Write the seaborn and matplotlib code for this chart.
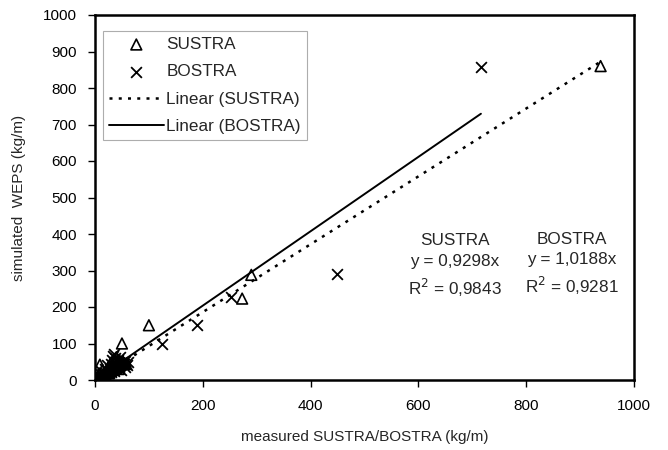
import numpy as np
import pandas as pd
import matplotlib
matplotlib.use("Agg")
import matplotlib.pyplot as plt
import seaborn as sns

# SUSTRA points (measured, simulated)
sustra_x = [938, 290, 273, 100, 50, 9, 5, 12, 18, 22, 25, 28, 30, 33, 35, 38, 40, 42, 45, 48,
            52, 55, 15, 20, 26, 32, 3, 8, 36, 44, 2, 14, 24, 30, 46, 58, 40]
sustra_y = [860, 288, 223, 150, 100, 42, 5, 10, 15, 22, 18, 30, 25, 35, 28, 40, 33, 45, 38, 42,
            50, 46, 8, 12, 20, 40, 2, 18, 55, 30, 6, 28, 34, 48, 52, 44, 62]
# BOSTRA points
bostra_x = [716, 449, 252, 189, 124, 10, 15, 20, 24, 28, 30, 34, 37, 40, 43, 46, 50, 53, 56, 60,
            18, 26, 32, 38, 44, 48, 6, 22, 35, 42, 4, 12, 29, 33, 47, 55, 62, 36]
bostra_y = [858, 290, 228, 150, 100, 8, 12, 20, 25, 30, 22, 35, 45, 38, 50, 42, 48, 44, 52, 40,
            30, 18, 55, 60, 35, 28, 4, 40, 25, 55, 2, 26, 45, 65, 62, 35, 50, 70]

slope_sustra = 0.9298
slope_bostra = 1.0188
r2_sustra = "0,9843"
r2_bostra = "0,9281"

sns.set_theme(style="white")
plt.rcParams['font.family'] = ['Liberation Sans', 'DejaVu Sans']

fig = plt.figure(figsize=(6.68, 4.5), dpi=100)
ax = fig.add_axes([95 / 668, 70 / 450, 539 / 668, 365 / 450])

df_s = pd.DataFrame({"x": sustra_x, "y": sustra_y})
df_b = pd.DataFrame({"x": bostra_x, "y": bostra_y})

sns.scatterplot(data=df_s, x="x", y="y", ax=ax, marker="^", s=60,
                facecolors="none", edgecolor="black", linewidth=1.2, label="SUSTRA")
sns.scatterplot(data=df_b, x="x", y="y", ax=ax, marker="x", s=60,
                color="black", linewidth=1.3, label="BOSTRA")

xs = np.array([0, max(sustra_x)])
ax.plot(xs, slope_sustra * xs, linestyle=(0, (1.2, 2.5)), color="black", lw=1.8,
        label="Linear (SUSTRA)")
xb = np.array([0, max(bostra_x)])
ax.plot(xb, slope_bostra * xb, linestyle="-", color="black", lw=1.4,
        label="Linear (BOSTRA)")

ax.set_xlim(0, 1000)
ax.set_ylim(0, 1000)
ax.set_xticks(range(0, 1001, 200))
ax.set_yticks(range(0, 1001, 100))
ax.tick_params(axis="both", which="both", direction="out", length=5, width=1,
               colors="black", labelsize=11, left=True, bottom=True)
ax.tick_params(axis="x", pad=9)
ax.tick_params(axis="y", pad=8)
for sp in ax.spines.values():
    sp.set_color("black")
    sp.set_linewidth(1.8)

ax.set_xlabel("measured SUSTRA/BOSTRA (kg/m)", fontsize=11, labelpad=12)
ax.set_ylabel("simulated  WEPS (kg/m)", fontsize=11, labelpad=12)

leg = ax.legend(loc="upper left", bbox_to_anchor=(8 / 539, 1 - 16 / 365),
                borderaxespad=0, frameon=True,
                fancybox=False, edgecolor="#999999", fontsize=12.3,
                handlelength=3.2, handletextpad=0.15, borderpad=0.35, labelspacing=0.72,
                markerscale=1.0)
leg.get_frame().set_linewidth(0.8)

ax.text(0.668, 0.312, "SUSTRA\ny = 0,9298x\nR$^2$ = " + r2_sustra, transform=ax.transAxes,
        ha="center", va="center", fontsize=12.3, linespacing=1.45)
ax.text(0.885, 0.316, "BOSTRA\ny = 1,0188x\nR$^2$ = " + r2_bostra, transform=ax.transAxes,
        ha="center", va="center", fontsize=12.3, linespacing=1.45)

fig.savefig("out.png", dpi=100, facecolor="white")
